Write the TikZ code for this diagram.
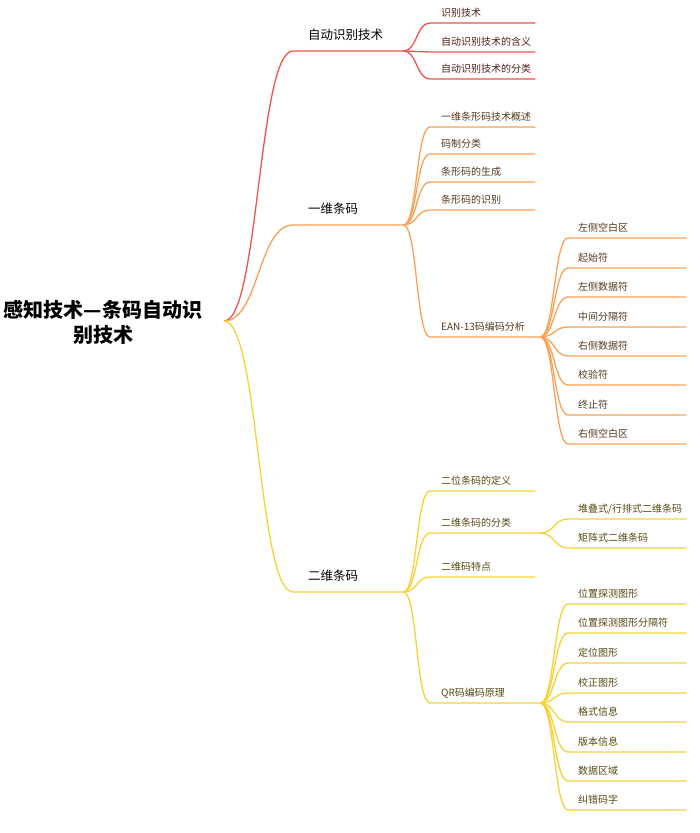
\documentclass[tikz,border=0pt]{standalone}
\usepackage{fontspec}
\setmainfont{Noto Sans CJK SC}
\usepackage{tikz}
\usetikzlibrary{positioning, calc}
\usepackage{xcolor}
\definecolor{mapred}{RGB}{245,82,76}
\definecolor{maporange}{RGB}{249,162,86}
\definecolor{mapyellow}{RGB}{246,210,52}

\begin{document}
\begin{tikzpicture}[x=1pt, y=-1pt,
  branch/.style={line width=1.3pt},
  lvone/.style={anchor=south west, inner xsep=15pt, inner ysep=0pt, text depth=11.5pt,
    text width=80pt, align=left, font=\fontsize{12.5}{14}\selectfont},
  lvtwo/.style={anchor=south west, inner xsep=11pt, inner ysep=0pt, text depth=6.2pt,
    text width=83pt, align=left, font=\fontsize{10}{12}\selectfont},
  hubtwo/.style={lvtwo, text width=88pt},
  lvthree/.style={anchor=south west, inner xsep=10pt, inner ysep=0pt, text depth=6.2pt,
    text width=98pt, align=left, font=\fontsize{10}{12}\selectfont}]
  \useasboundingbox (0,0) rectangle (700,833);

  % ---- child macro: style, colour, parent, name, position, text ----
  \def\twig#1#2#3#4#5#6{
    \node[#1, text=#2!35!black] (#4) at (#5) {#6};
    \draw[#2, branch] (#3.south east) .. controls +(14,0) and +(-14,0) .. (#4.south west) -- (#4.south east);
  }

  % ---- Root ----
  \node[align=center, font=\fontsize{20}{25}\selectfont\bfseries] (root) at (103,322) {感知技术—条码自动识\\别技术};
  \coordinate (hub) at (224,321);

  % ---- Level 1 ----
  \node[lvone] (auto) at (293,51) {自动识别技术};
  \node[lvone] (oned) at (293,225) {一维条码};
  \node[lvone] (twod) at (293,592) {二维条码};
  \draw[mapred, branch] (hub) .. controls +(35,0) and +(-35,0) .. (auto.south west) -- (auto.south east);
  \draw[maporange, branch] (hub) .. controls +(35,0) and +(-35,0) .. (oned.south west) -- (oned.south east);
  \draw[mapyellow, branch] (hub) .. controls +(35,0) and +(-35,0) .. (twod.south west) -- (twod.south east);

  % ---- 自动识别技术 ----
  \twig{lvtwo}{mapred}{auto}{autoa}{430,23}{识别技术}
  \twig{lvtwo}{mapred}{auto}{autob}{430,52}{自动识别技术的含义}
  \twig{lvtwo}{mapred}{auto}{autoc}{430,79}{自动识别技术的分类}

  % ---- 一维条码 ----
  \twig{lvtwo}{maporange}{oned}{onea}{430,127}{一维条形码技术概述}
  \twig{lvtwo}{maporange}{oned}{oneb}{430,154}{码制分类}
  \twig{lvtwo}{maporange}{oned}{onec}{430,182}{条形码的生成}
  \twig{lvtwo}{maporange}{oned}{oned2}{430,210}{条形码的识别}
  \twig{hubtwo}{maporange}{oned}{ean}{430,337}{EAN-13码编码分析}

  % EAN-13 parts
  \twig{lvthree}{maporange}{ean}{eana}{568,238}{左侧空白区}
  \twig{lvthree}{maporange}{ean}{eanb}{568,268}{起始符}
  \twig{lvthree}{maporange}{ean}{eanc}{568,297}{左侧数据符}
  \twig{lvthree}{maporange}{ean}{eand}{568,327}{中间分隔符}
  \twig{lvthree}{maporange}{ean}{eane}{568,356}{右侧数据符}
  \twig{lvthree}{maporange}{ean}{eanf}{568,385}{校验符}
  \twig{lvthree}{maporange}{ean}{eang}{568,415}{终止符}
  \twig{lvthree}{maporange}{ean}{eanh}{568,444}{右侧空白区}

  % ---- 二维条码 ----
  \twig{lvtwo}{mapyellow}{twod}{twoa}{430,491}{二位条码的定义}
  \twig{hubtwo}{mapyellow}{twod}{twob}{430,533}{二维条码的分类}
  \twig{lvtwo}{mapyellow}{twod}{twoc}{430,577}{二维码特点}
  \twig{hubtwo}{mapyellow}{twod}{qr}{430,703}{QR码编码原理}

  % kinds
  \twig{lvthree}{mapyellow}{twob}{kinda}{568,519}{堆叠式/行排式二维条码}
  \twig{lvthree}{mapyellow}{twob}{kindb}{568,548}{矩阵式二维条码}

  % QR parts
  \twig{lvthree}{mapyellow}{qr}{qra}{568,604}{位置探测图形}
  \twig{lvthree}{mapyellow}{qr}{qrb}{568,633}{位置探测图形分隔符}
  \twig{lvthree}{mapyellow}{qr}{qrc}{568,663}{定位图形}
  \twig{lvthree}{mapyellow}{qr}{qrd}{568,693}{校正图形}
  \twig{lvthree}{mapyellow}{qr}{qre}{568,722}{格式信息}
  \twig{lvthree}{mapyellow}{qr}{qrf}{568,752}{版本信息}
  \twig{lvthree}{mapyellow}{qr}{qrg}{568,781}{数据区域}
  \twig{lvthree}{mapyellow}{qr}{qrh}{568,810}{纠错码字}

\end{tikzpicture}
\end{document}
